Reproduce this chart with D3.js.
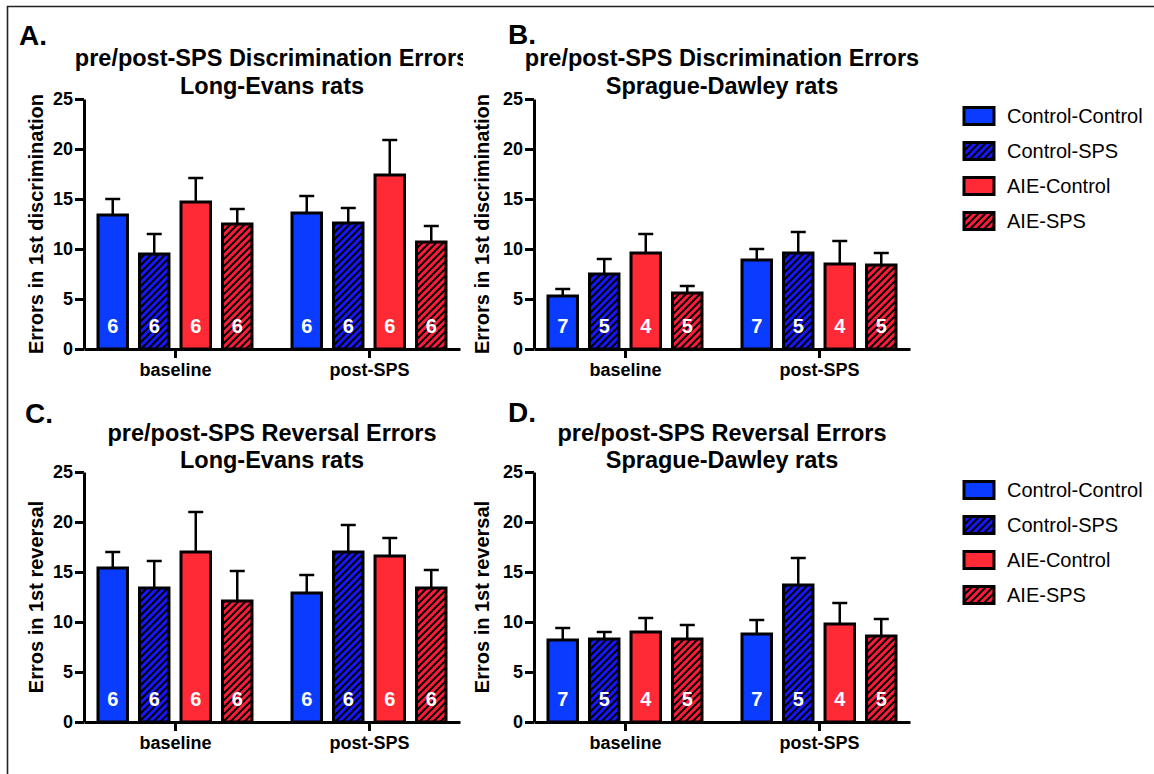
<!DOCTYPE html>
<html>
<head>
<meta charset="utf-8">
<script src="https://cdn.jsdelivr.net/npm/d3@7"></script>
<style>
  body { margin: 0; background: #fff; }
  svg text { font-family: "Liberation Sans", Arial, sans-serif; }
</style>
</head>
<body>
<svg id="chart" width="1154" height="774"></svg>
<script>
var groups = ["baseline", "post-SPS"];
var series = ["Control-Control", "Control-SPS", "AIE-Control", "AIE-SPS"];
var yTicks = [0, 5, 10, 15, 20, 25];

// mean and SEM per group (rows) and series (columns)
var meanA = [[13.4, 9.5, 14.7, 12.5], [13.6, 12.6, 17.4, 10.7]];
var semA  = [[1.6, 2.0, 2.4, 1.5], [1.7, 1.5, 3.5, 1.6]];
var meanB = [[5.3, 7.5, 9.6, 5.6], [8.9, 9.6, 8.5, 8.4]];
var semB  = [[0.7, 1.5, 1.9, 0.7], [1.1, 2.1, 2.3, 1.2]];
var meanC = [[15.4, 13.4, 17.0, 12.1], [12.9, 17.0, 16.6, 13.4]];
var semC  = [[1.6, 2.7, 4.0, 3.0], [1.8, 2.7, 1.8, 1.8]];
var meanD = [[8.2, 8.3, 9.0, 8.3], [8.8, 13.7, 9.8, 8.6]];
var semD  = [[1.2, 0.7, 1.4, 1.4], [1.4, 2.7, 2.1, 1.7]];
var nLE = [6, 6, 6, 6];
var nSD = [7, 5, 4, 5];

var blue = "#0a3cff", blueH = "#1616ff", red = "#ff2a36", redH = "#ff1a3a";

var svg = d3.select("#chart");
var defs = svg.append("defs");

function hatch(id, col) {
  var p = defs.append("pattern").attr("id", id)
      .attr("patternUnits", "userSpaceOnUse")
      .attr("width", 7).attr("height", 7);
  p.append("rect").attr("width", 7).attr("height", 7).attr("fill", col);
  p.append("path").attr("d", "M-1,1 l2,-2 M0,7 l7,-7 M6,8 l2,-2")
      .attr("stroke", "#000").attr("stroke-width", 2);
}
hatch("hb", blueH);
hatch("hr", redH);
var fills = [blue, "url(#hb)", red, "url(#hr)"];

defs.append("clipPath").attr("id", "leftclip")
  .append("rect").attr("x", 0).attr("y", 0).attr("width", 463).attr("height", 774);

// outer frame
svg.append("path").attr("d", "M7.5,774 V6.5 H1154")
  .attr("fill", "none").attr("stroke", "#222").attr("stroke-width", 1.6);

var panels = [
  {letter: "A.", ax: 84, top: 99, mean: meanA, sem: semA, n: nLE,
   title: ["pre/post-SPS Discrimination Errors", "Long-Evans rats"],
   ylab: "Errors in 1st discrimination", lx: 19, ly: 45, ty: [66, 94], yx: 43, left: true},
  {letter: "B.", ax: 534, top: 99, mean: meanB, sem: semB, n: nSD,
   title: ["pre/post-SPS Discrimination Errors", "Sprague-Dawley rats"],
   ylab: "Errors in 1st discrimination", lx: 508, ly: 44, ty: [66, 94], yx: 489, legend: 116},
  {letter: "C.", ax: 84, top: 472, mean: meanC, sem: semC, n: nLE,
   title: ["pre/post-SPS Reversal Errors", "Long-Evans rats"],
   ylab: "Erros in 1st reversal", lx: 25, ly: 423, ty: [441, 468], yx: 43, left: true},
  {letter: "D.", ax: 534, top: 472, mean: meanD, sem: semD, n: nSD,
   title: ["pre/post-SPS Reversal Errors", "Sprague-Dawley rats"],
   ylab: "Erros in 1st reversal", lx: 508, ly: 422, ty: [441, 468], yx: 489, legend: 490}
];

panels.forEach(function(p) {
  var g = svg.append("g");
  if (p.left) g.attr("clip-path", "url(#leftclip)");

  var W = 376, H = 250;
  var y = d3.scaleLinear().domain([0, 25]).range([p.top + H, p.top]);
  var x0 = d3.scalePoint().domain(groups).range([p.ax, p.ax + W]).padding(0.469);
  var x1 = d3.scaleBand().domain(series).range([-77, 77]).paddingInner(0.29);

  g.append("text").attr("x", p.lx).attr("y", p.ly)
    .style("font-size", "28px").style("font-weight", "bold").text(p.letter);

  g.selectAll("text.title").data(p.title).enter().append("text")
    .attr("class", "title")
    .attr("x", p.ax + W / 2).attr("y", function(d, i) { return p.ty[i]; })
    .attr("text-anchor", "middle")
    .style("font-size", "23.5px").style("font-weight", "bold")
    .text(function(d) { return d; });

  g.append("text")
    .attr("transform", "translate(" + p.yx + "," + (p.top + H / 2) + ") rotate(-90)")
    .attr("text-anchor", "middle")
    .style("font-size", "20px").style("font-weight", "bold")
    .text(p.ylab);

  // bars
  var rows = [];
  groups.forEach(function(gr, gi) {
    series.forEach(function(s, si) {
      rows.push({g: gr, s: s, si: si, m: p.mean[gi][si], e: p.sem[gi][si], n: p.n[si]});
    });
  });
  var bx = function(d) { return x0(d.g) + x1(d.s); };
  var bw = x1.bandwidth();

  g.selectAll("line.err").data(rows).enter().append("line")
    .attr("x1", function(d) { return bx(d) + bw / 2; })
    .attr("x2", function(d) { return bx(d) + bw / 2; })
    .attr("y1", function(d) { return y(d.m); })
    .attr("y2", function(d) { return y(d.m + d.e); })
    .attr("stroke", "#000").attr("stroke-width", 2.5);
  g.selectAll("line.cap").data(rows).enter().append("line")
    .attr("x1", function(d) { return bx(d) + bw / 2 - 7.5; })
    .attr("x2", function(d) { return bx(d) + bw / 2 + 7.5; })
    .attr("y1", function(d) { return y(d.m + d.e); })
    .attr("y2", function(d) { return y(d.m + d.e); })
    .attr("stroke", "#000").attr("stroke-width", 2.5);

  g.selectAll("rect.bar").data(rows).enter().append("rect")
    .attr("x", bx).attr("width", bw)
    .attr("y", function(d) { return y(d.m); })
    .attr("height", function(d) { return y(0) - y(d.m); })
    .attr("fill", function(d) { return fills[d.si]; })
    .attr("stroke", "#000").attr("stroke-width", 3);

  g.selectAll("text.n").data(rows).enter().append("text")
    .attr("x", function(d) { return bx(d) + bw / 2; })
    .attr("y", y(0) - 16)
    .attr("text-anchor", "middle").attr("fill", "#fff")
    .style("font-size", "20px").style("font-weight", "bold")
    .text(function(d) { return d.n; });

  // axes
  var ya = g.append("g").attr("transform", "translate(" + p.ax + ",0)")
    .call(d3.axisLeft(y).tickValues(yTicks).tickSize(9).tickSizeOuter(0).tickPadding(2));
  var xa = g.append("g").attr("transform", "translate(0," + y(0) + ")")
    .call(d3.axisBottom(x0).tickSize(9).tickSizeOuter(0).tickPadding(5));
  [ya, xa].forEach(function(a) {
    a.select(".domain").attr("stroke", "#000").attr("stroke-width", 3);
    a.selectAll(".tick line").attr("stroke", "#000").attr("stroke-width", 3);
    a.selectAll("text").attr("fill", "#000")
      .style("font-size", "18px").style("font-weight", "bold")
      .style("font-family", "'Liberation Sans', Arial, sans-serif");
  });

  if (p.legend) {
    var lg = g.append("g");
    var it = lg.selectAll("g").data(series).enter().append("g")
      .attr("transform", function(d, i) { return "translate(964," + (p.legend + i * 35) + ")"; });
    it.append("rect").attr("x", 0).attr("y", -8.5).attr("width", 30).attr("height", 17)
      .attr("fill", function(d, i) { return fills[i]; })
      .attr("stroke", "#000").attr("stroke-width", 3);
    it.append("text").attr("x", 43).attr("y", 7)
      .style("font-size", "20px").text(function(d) { return d; });
  }
});
</script>
</body>
</html>
